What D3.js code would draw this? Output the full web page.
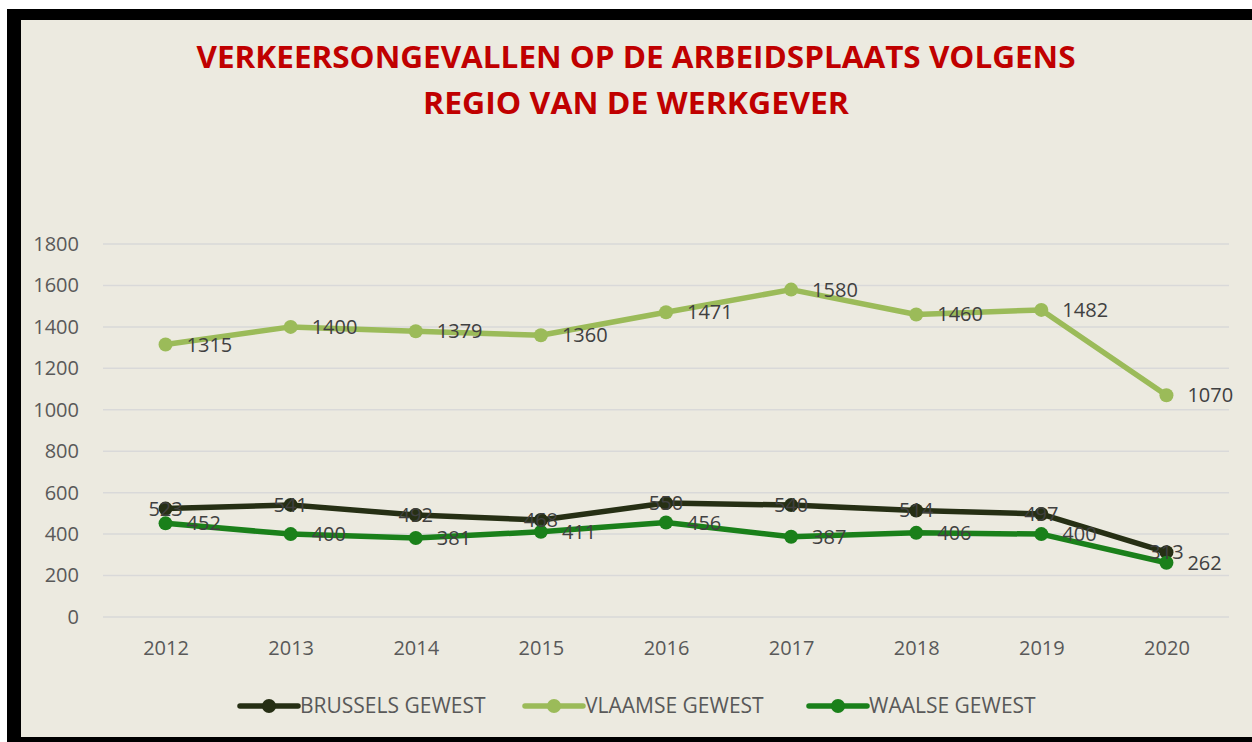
<!DOCTYPE html>
<html>
<head>
<meta charset="utf-8">
<script src="https://cdn.jsdelivr.net/npm/d3@7"></script>
<style>
  body { margin: 0; background: #ffffff; }
  svg { display: block; font-family: "Open Sans", sans-serif; }
</style>
</head>
<body>
<script>
// chart data
const years = ["2012", "2013", "2014", "2015", "2016", "2017", "2018", "2019", "2020"]
const brussels = [523, 541, 492, 468, 550, 540, 514, 497, 313]
const vlaamse = [1315, 1400, 1379, 1360, 1471, 1580, 1460, 1482, 1070]
const waalse = [452, 400, 381, 411, 456, 387, 406, 400, 262]
const yTicks = [0, 200, 400, 600, 800, 1000, 1200, 1400, 1600, 1800]
const seriesNames = ["BRUSSELS GEWEST", "VLAAMSE GEWEST", "WAALSE GEWEST"]
const titleLines = ["VERKEERSONGEVALLEN OP DE ARBEIDSPLAATS VOLGENS", "REGIO VAN DE WERKGEVER"]

const W = 1252, H = 742

const series = [
    { name: seriesNames[0], values: brussels, color: "#262F14", label: "center" },
    { name: seriesNames[1], values: vlaamse, color: "#9BBB59", label: "right" },
    { name: seriesNames[2], values: waalse, color: "#1A801A", label: "right" }
]

const svg = d3.select("body").append("svg")
    .attr("width", W)
    .attr("height", H)

// black frame + chart background
svg.append("rect")
    .attr("x", 7).attr("y", 9)
    .attr("width", W - 7).attr("height", H - 9)
    .attr("fill", "#000")
svg.append("rect")
    .attr("x", 21).attr("y", 20)
    .attr("width", W - 21).attr("height", 717)
    .attr("fill", "#ECEAE0")

// title
svg.selectAll(".title").data(titleLines)
    .enter().append("text")
    .attr("x", 636)
    .attr("y", (d, i) => 68 + i * 46)
    .attr("text-anchor", "middle")
    .attr("font-size", 31)
    .attr("font-weight", "bold")
    .attr("fill", "#C00000")
    .attr("textLength", (d, i) => i == 0 ? 879 : 426)
    .attr("lengthAdjust", "spacingAndGlyphs")
    .text(d => d)

// scales
const xScale = d3.scalePoint()
    .domain(years)
    .range([103, 1229])
    .padding(0.5)

const yScale = d3.scaleLinear()
    .domain([0, 1800])
    .range([617, 244])

// gridlines
svg.append("g")
    .selectAll("line").data(yTicks)
    .enter().append("line")
    .attr("x1", 103).attr("x2", 1229)
    .attr("y1", d => yScale(d)).attr("y2", d => yScale(d))
    .attr("stroke", "#D9D9D9")
    .attr("stroke-width", 1.5)

// y axis
const yAxis = svg.append("g")
    .attr("transform", "translate(90,0)")
    .call(d3.axisLeft(yScale).tickValues(yTicks).tickFormat(d3.format("d")).tickSize(0).tickPadding(11))
yAxis.select(".domain").remove()
yAxis.selectAll("text")
    .attr("font-size", 20)
    .attr("font-family", "Open Sans")
    .attr("fill", "#595959")

// x axis
const xAxis = svg.append("g")
    .attr("transform", "translate(0,631)")
    .call(d3.axisBottom(xScale).tickSize(0).tickPadding(10))
xAxis.select(".domain").remove()
xAxis.selectAll("text")
    .attr("font-size", 20)
    .attr("font-family", "Open Sans")
    .attr("fill", "#595959")

// lines
const line = d3.line()
    .x((d, i) => xScale(years[i]))
    .y(d => yScale(d))

series.forEach(s => {
    svg.append("path")
        .datum(s.values)
        .attr("d", line)
        .attr("fill", "none")
        .attr("stroke", s.color)
        .attr("stroke-width", 5.5)
        .attr("stroke-linejoin", "round")

    svg.selectAll(null).data(s.values)
        .enter().append("circle")
        .attr("cx", (d, i) => xScale(years[i]))
        .attr("cy", d => yScale(d))
        .attr("r", 7)
        .attr("fill", s.color)
})

// data labels on top
series.forEach(s => {
    svg.selectAll(null).data(s.values)
        .enter().append("text")
        .attr("x", (d, i) => xScale(years[i]) + (s.label == "right" ? 21 : 0))
        .attr("y", d => yScale(d))
        .attr("dy", "0.35em")
        .attr("text-anchor", s.label == "right" ? "start" : "middle")
        .attr("font-size", 20)
        .attr("fill", "#404040")
        .text(d => d)
})

// legend
const legendX = [240, 525, 809]
const legend = svg.selectAll(".legend").data(series)
    .enter().append("g")
    .attr("transform", (d, i) => "translate(" + legendX[i] + ",706)")

legend.append("line")
    .attr("x1", 0).attr("x2", 58)
    .attr("stroke", d => d.color)
    .attr("stroke-width", 5.5)
    .attr("stroke-linecap", "round")
legend.append("circle")
    .attr("cx", 29)
    .attr("r", 7)
    .attr("fill", d => d.color)
legend.append("text")
    .attr("x", 60)
    .attr("dy", "0.35em")
    .attr("font-size", 21)
    .attr("fill", "#595959")
    .text(d => d.name)
</script>
</body>
</html>
